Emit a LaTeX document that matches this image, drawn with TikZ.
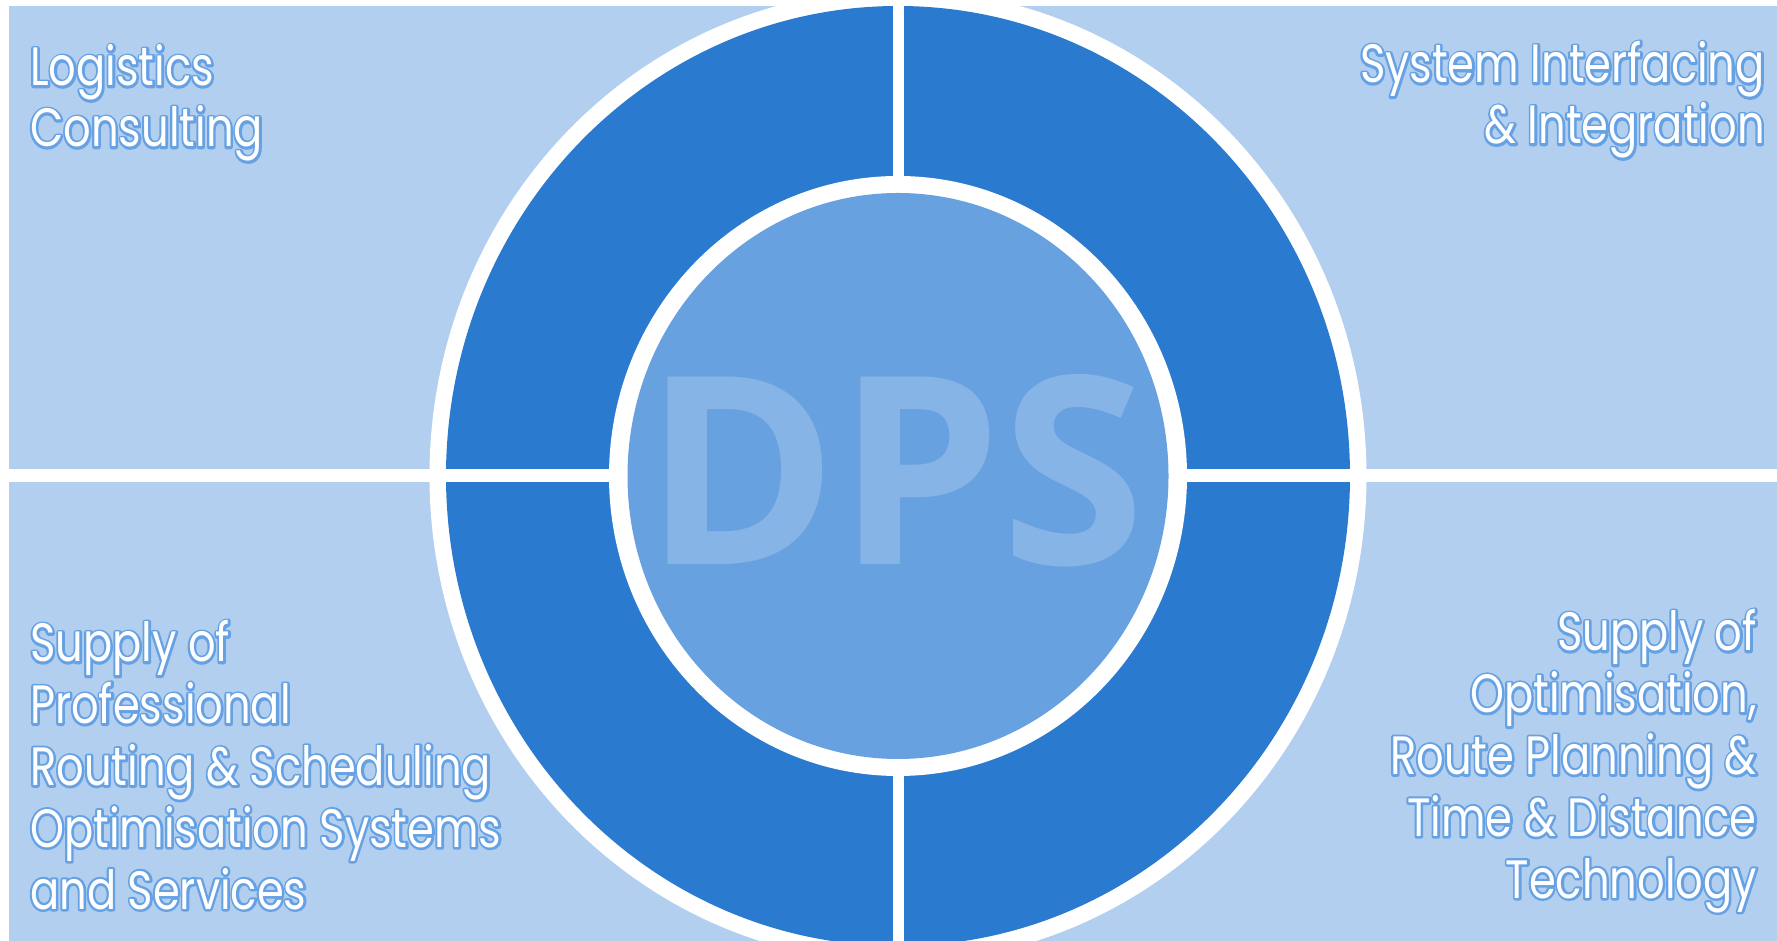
\documentclass[tikz,border=0pt]{standalone}
\usepackage{fontspec}
\setmainfont{Poppins}
\newfontfamily\lblfont[FakeStretch=0.80]{Poppins}
\newfontfamily\dpsfont{Open Sans}
\definecolor{bgblue}{RGB}{178,207,239}
\definecolor{ringblue}{RGB}{42,122,208}
\definecolor{coreblue}{RGB}{104,161,223}
\definecolor{dpsblue}{RGB}{135,180,230}
\tikzset{
  lbl/.style={inner sep=0pt, text=white, font=\lblfont\fontsize{54}{62}\selectfont}
}
\newcommand{\strk}[1]{\special{pdf:code 1 j 4.6 w 0.40 0.63 0.89 RG 1 Tr}#1\special{pdf:code 0 Tr}}
\newcommand{\lab}[4]{%
  \node[lbl, anchor=#2] (#1s) at #3 {\strk{#4}};
  \node[lbl, anchor=#2] (#1) at #3 {#4};}
\begin{document}
\begin{tikzpicture}[x=1pt,y=1pt]
\useasboundingbox (0,0) rectangle (1777,941);
\fill[white] (0,0) rectangle (1777,941);
\fill[bgblue] (9,0) rectangle (1777,935);
\fill[white] (898,465) ellipse [x radius=468.5, y radius=486.5];
\fill[ringblue] (898,465) ellipse [x radius=452, y radius=470];
\fill[white] (892.5,0) rectangle (903.5,941);
\fill[white] (0,459.3) rectangle (1777,471.5);
\fill[white] (898,465) ellipse [x radius=289, y radius=300];
\fill[coreblue] (898,465) ellipse [x radius=270.5, y radius=283];
\node[inner sep=0pt, text=dpsblue] (dps) at (894.6,470.5) {\resizebox{501pt}{190pt}{\dpsfont\bfseries DPS}};
% top left
\lab{tl1}{base west}{(30,855)}{Logistics}
\lab{tl2}{base west}{(30,794)}{Consulting}
% top right
\lab{tr1}{base east}{(1765,858)}{System Interfacing}
\lab{tr2}{base east}{(1765,797)}{\& Integration}
% bottom left
\lab{bl1}{base west}{(30,279)}{Supply of}
\lab{bl2}{base west}{(30,217.2)}{Professional}
\lab{bl3}{base west}{(30,155.4)}{Routing \& Scheduling}
\lab{bl4}{base west}{(30,93.6)}{Optimisation Systems}
\lab{bl5}{base west}{(30,31.8)}{and Services}
% bottom right
\lab{br1}{base east}{(1757,290)}{Supply of}
\lab{br2}{base east}{(1757,228.2)}{Optimisation,}
\lab{br3}{base east}{(1757,166.4)}{Route Planning \&}
\lab{br4}{base east}{(1757,104.6)}{Time \& Distance}
\lab{br5}{base east}{(1757,42.8)}{Technology}
\end{tikzpicture}
\end{document}
